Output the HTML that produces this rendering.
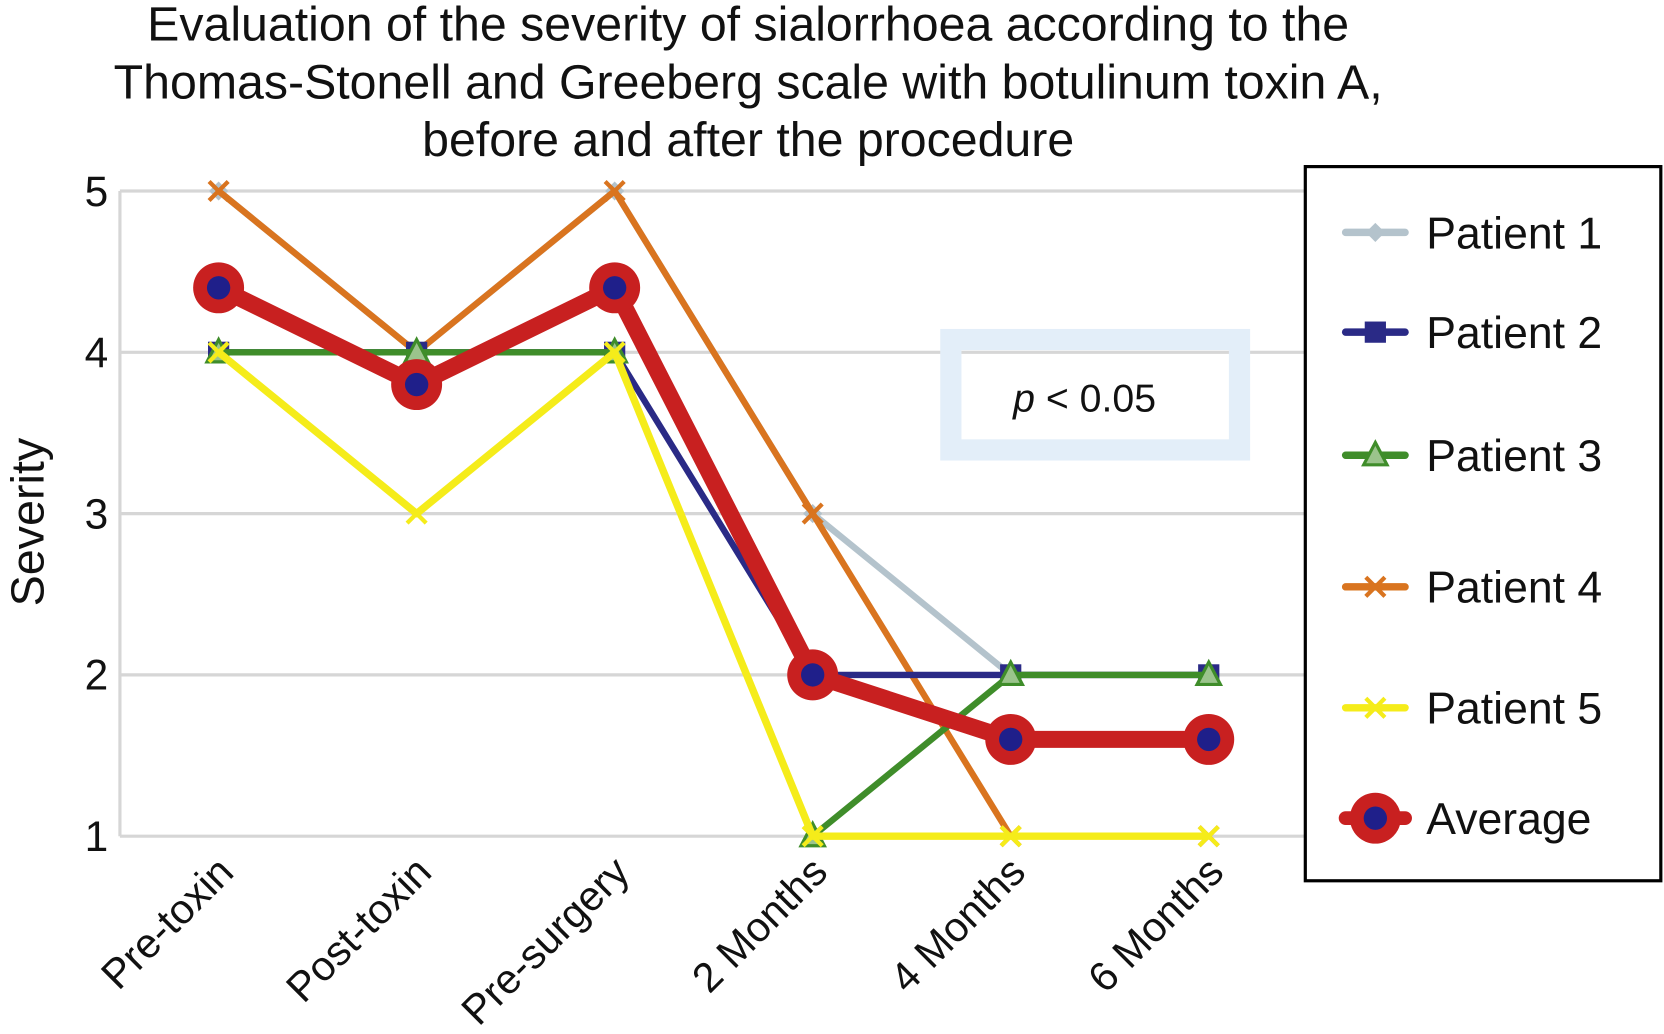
<!DOCTYPE html>
<html><head><meta charset="utf-8"><style>
html,body{margin:0;padding:0;background:#fff;}
svg{display:block;font-family:"Liberation Sans",Arial,sans-serif;}
</style></head><body>
<svg id="chart" width="1664" height="1034" viewBox="0 0 1568 974.4" preserveAspectRatio="none">
<g font-size="45.5" text-anchor="middle" fill="#111">
<text x="705" y="38">Evaluation of the severity of sialorrhoea according to the</text>
<text x="705" y="93">Thomas-Stonell and Greeberg scale with botulinum toxin A,</text>
<text x="705" y="147">before and after the procedure</text>
</g>
<g id="grid"></g>
<g id="yticks"></g>
<g id="xticks"></g>
<text x="0" y="0" font-size="44" text-anchor="middle" transform="translate(41,492) rotate(-90)" fill="#111">Severity</text>
<g>
<rect x="896" y="320" width="272" height="104" fill="none" stroke="#e3eef9" stroke-width="20"/>
<text x="1022" y="388" font-size="37" text-anchor="middle" fill="#111"><tspan font-style="italic">p</tspan> &lt; 0.05</text>
</g>
<g id="series"></g>
<g>
<rect x="1230" y="157" width="335" height="673" fill="#fff" stroke="#000" stroke-width="3"/>
<g id="legend-items"></g>
</g>
</svg>
<script>
const categories=["Pre-toxin","Post-toxin","Pre-surgery","2 Months","4 Months","6 Months"];
const yTicks=[1,2,3,4,5];
const patient1=[5,4,5,3,2,2];
const patient2=[4,4,4,2,2,2];
const patient3=[4,4,4,1,2,2];
const patient4=[5,4,5,3,1,1];
const patient5=[4,3,4,1,1,1];
const average=[4.4,3.8,4.4,2,1.6,1.6];
const seriesNames=["Patient 1","Patient 2","Patient 3","Patient 4","Patient 5","Average"];

const NS="http://www.w3.org/2000/svg";
const X0=206,DX=186.6,Y1=788,DY=152,PL=113,PR=1230;
const xs=i=>X0+i*DX, ys=v=>Y1-(v-1)*DY;
function mk(tag,attrs,parent){const e=document.createElementNS(NS,tag);for(const k in attrs)e.setAttribute(k,attrs[k]);parent.appendChild(e);return e;}
const grid=document.getElementById('grid'),yt=document.getElementById('yticks'),xt=document.getElementById('xticks'),sg=document.getElementById('series'),lg=document.getElementById('legend-items');
mk('line',{x1:PL,x2:PL,y1:ys(5),y2:ys(1),stroke:'#d6d6d6','stroke-width':3},grid);
yTicks.forEach(v=>{
 const l=mk('line',{x1:PL,x2:PR,y1:ys(v),y2:ys(v),stroke:'#d6d6d6','stroke-width':3},grid);
 
 
 const t=mk('text',{x:102,y:ys(v)+14,'font-size':40,'text-anchor':'end',fill:'#111'},yt);t.textContent=v;
 
 
});
categories.forEach((c,i)=>{
 const t=mk('text',{x:0,y:0,'font-size':39,'text-anchor':'end',fill:'#111',transform:`translate(${xs(i)+16},${824}) rotate(-45)`},xt);t.textContent=c;
 
 
});
const cfg=[
 {d:patient1,c:'#b4c3cc',w:6,m:'diamond'},
 {d:patient4,c:'#d9741f',w:6,m:'x'},
 {d:patient2,c:'#2a2a86',w:6,m:'square'},
 {d:patient3,c:'#3f8d2a',w:6,m:'tri'},
 {d:patient5,c:'#f5ec1a',w:7,m:'x'},
 {d:average,c:'#c82020',w:16,m:'avg'}
];
const nameIdx=[0,3,1,2,4,5];
function marker(m,x,y,c,p){
 if(m==='diamond')mk('polygon',{points:`${x},${y-9} ${x+9},${y} ${x},${y+9} ${x-9},${y}`,fill:c},p);
 else if(m==='square')mk('rect',{x:x-10,y:y-10,width:20,height:20,fill:c},p);
 else if(m==='tri')mk('polygon',{points:`${x},${y-12} ${x+11},${y+9} ${x-11},${y+9}`,fill:'#9bc48c',stroke:c,'stroke-width':3},p);
 else if(m==='x'){mk('path',{d:`M${x-9} ${y-9}L${x+9} ${y+9}M${x+9} ${y-9}L${x-9} ${y+9}`,stroke:c,'stroke-width':4},p);}
 else if(m==='avg'){mk('circle',{cx:x,cy:y,r:24,fill:'#c82020'},p);mk('circle',{cx:x,cy:y,r:11,fill:'#1f1f8a'},p);}
}
cfg.forEach((s,k)=>{
 const g=mk('g',{},sg);
 
 
 mk('polyline',{points:s.d.map((v,i)=>xs(i)+','+ys(v)).join(' '),fill:'none',stroke:s.c,'stroke-width':s.w,'stroke-linejoin':'round'},g);
 s.d.forEach((v,i)=>marker(s.m,xs(i),ys(v),s.c,g));
});
const legCfg=[cfg[0],cfg[2],cfg[3],cfg[1],cfg[4],cfg[5]];
const legY=[219,313,429,553,667,771];
legCfg.forEach((s,k)=>{
 const g=mk('g',{},lg);
 
 
 mk('line',{x1:1268,x2:1324,y1:legY[k],y2:legY[k],stroke:s.c,'stroke-width':s.w===16?13:7,'stroke-linecap':'round'},g);
 marker(s.m,1296,legY[k],s.c,g);
 const t=mk('text',{x:1344,y:legY[k]+15,'font-size':42,fill:'#111'},g);t.textContent=seriesNames[k];
});
</script>
</body></html>
